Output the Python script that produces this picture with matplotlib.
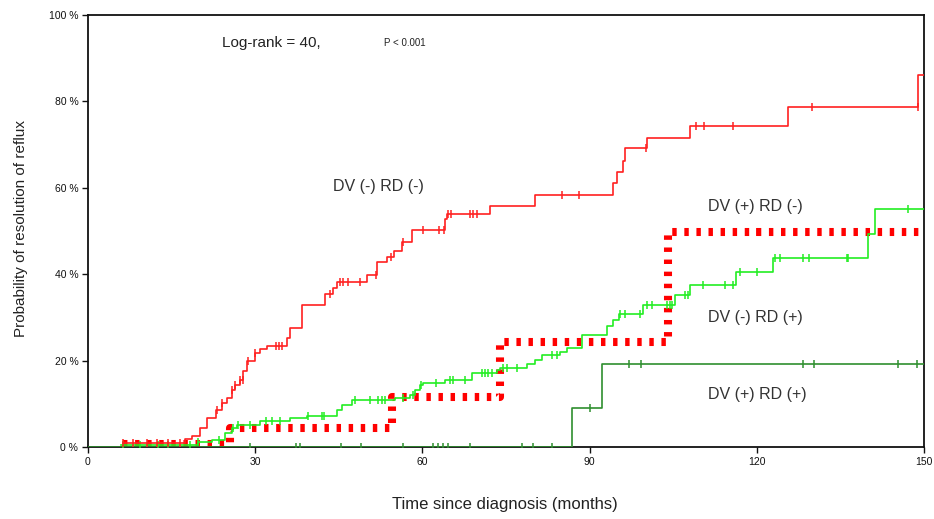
import numpy as np
import matplotlib
matplotlib.use('Agg')
from matplotlib import pyplot as plt

plt.rcParams['font.family'] = ['Liberation Sans', 'DejaVu Sans']

# Kaplan-Meier steps: (time in months, cumulative resolution in %)
dvneg_rdneg_t = [6.3, 17.4, 18.6, 20.1, 21.3, 23.0, 24.0, 25.0, 25.8, 26.4, 27.3, 27.9, 28.5, 30.0,
                 30.9, 32.1, 35.7, 36.2, 38.4, 42.5, 44.0, 44.6, 50.0, 51.8, 53.7, 54.9, 56.3, 58.1,
                 64.1, 64.4, 72.1, 80.2, 94.2, 94.9, 96.0, 96.4, 100.3, 108.0, 125.6, 149.0, 150.0]
dvneg_rdneg_p = [0.9, 1.8, 2.6, 4.3, 6.7, 8.6, 10.2, 11.3, 13.3, 14.4, 15.6, 17.7, 19.8, 21.8,
                 22.6, 23.3, 25.3, 27.6, 32.8, 35.5, 36.9, 38.2, 39.8, 42.9, 43.9, 45.4, 47.4, 50.2,
                 52.8, 54.0, 55.8, 58.4, 61.2, 63.7, 66.3, 69.1, 71.6, 74.4, 78.6, 86.0, 86.0]
dvneg_rdneg_cens = [6.3, 8.1, 10.6, 12.4, 14.4, 16.5, 23.1, 24.0, 25.8, 26.4, 27.3, 27.8, 28.7, 30.0,
                    33.7, 34.3, 34.9, 43.4, 45.2, 45.8, 46.6, 48.8, 51.7, 54.4, 56.6, 60.1, 62.9,
                    63.9, 64.6, 65.1, 68.5, 69.1, 69.8, 85.1, 88.1, 100.1, 109.1, 110.5, 115.7,
                    129.9, 148.9]

dvpos_rdneg_t = [6.3, 25.5, 54.5, 74.0, 104.0, 150.0]
dvpos_rdneg_p = [0.7, 4.4, 11.6, 24.2, 49.8, 49.8]
dvpos_rdneg_cens = [120.0]

dvneg_rdpos_t = [6.0, 19.7, 22.2, 24.6, 25.8, 26.7, 30.9, 36.2, 39.3, 44.7, 45.6, 47.4, 55.0, 57.8,
                 58.7, 59.5, 60.1, 64.1, 68.9, 73.4, 73.9, 78.8, 80.2, 81.5, 84.7, 85.9, 88.6,
                 93.1, 94.2, 95.3, 99.6, 105.3, 108.0, 116.3, 122.9, 140.0, 141.2, 150.0]
dvneg_rdpos_p = [0.5, 1.2, 1.6, 3.3, 4.4, 5.1, 6.0, 6.7, 7.2, 8.6, 9.8, 10.9, 11.4, 12.1,
                 13.3, 14.4, 14.9, 15.6, 17.2, 17.9, 18.4, 19.1, 20.2, 21.4, 22.1, 23.0, 26.0,
                 27.9, 29.5, 30.9, 32.8, 35.2, 37.4, 40.5, 43.7, 49.3, 55.1, 55.1]
dvneg_rdpos_cens = [6.3, 9.3, 12.6, 14.4, 18.3, 19.7, 23.5, 26.0, 27.0, 29.0, 32.0, 33.0, 34.5,
                    39.5, 42.0, 42.4, 47.9, 50.6, 52.0, 52.7, 53.3, 56.5, 58.3, 59.8, 62.4, 65.0,
                    65.5, 67.6, 70.7, 71.2, 71.8, 72.5, 74.5, 75.2, 77.0, 83.3, 84.2, 95.5, 96.4,
                    99.1, 100.3, 101.2, 103.9, 104.4, 104.8, 107.1, 107.7, 110.4, 114.3, 115.7,
                    117.0, 120.0, 123.3, 124.2, 128.3, 129.4, 136.2, 136.4, 147.1]

dvpos_rdpos_t = [0.0, 86.9, 92.2, 150.0]
dvpos_rdpos_p = [0.0, 9.1, 19.3, 19.3]
dvpos_rdpos_cens = [29.1, 37.3, 38.0, 45.4, 49.0, 56.6, 61.9, 62.8, 63.7, 64.6, 68.5, 77.8,
                    79.8, 83.3, 90.1, 97.1, 99.2, 128.3, 130.3, 145.3, 148.8]

curve_labels = ['DV (-) RD (-)', 'DV (+) RD (-)', 'DV (-) RD (+)', 'DV (+) RD (+)']
label_pos = [(44.0, 60.2), (111.2, 55.6), (111.2, 30.0), (111.2, 12.1)]


def step_value(t_steps, p_steps, t):
    idx = np.searchsorted(t_steps, t, side='right') - 1
    return np.asarray(p_steps)[np.clip(idx, 0, None)]


fig = plt.figure(figsize=(9.34, 5.19), dpi=100)
ax = fig.add_axes([0.0942, 0.1387, 0.8951, 0.8324])

# thick dotted curve first so the thin ones stay visible on top
ax.step(dvpos_rdneg_t, dvpos_rdneg_p, where='post', color='#ff0000', lw=5.8,
        linestyle=(0, (0.55, 0.95)), solid_capstyle='butt', dash_capstyle='butt', zorder=2)
ax.plot(dvpos_rdneg_cens, step_value(dvpos_rdneg_t, dvpos_rdneg_p, dvpos_rdneg_cens),
        ls='none', marker='|', ms=6, mew=1.3, color='#ff0000', zorder=2)

curves = [(dvpos_rdpos_t, dvpos_rdpos_p, dvpos_rdpos_cens, '#2f8f2f'),
          (dvneg_rdpos_t, dvneg_rdpos_p, dvneg_rdpos_cens, '#22ee22'),
          (dvneg_rdneg_t, dvneg_rdneg_p, dvneg_rdneg_cens, '#ff2020')]
for t_steps, p_steps, cens, col in curves:
    ax.step(t_steps, p_steps, where='post', color=col, lw=1.2, zorder=3)
    ax.plot(cens, step_value(t_steps, p_steps, cens), ls='none', marker='|',
            ms=6, mew=1.1, color=col, zorder=3)

for txt, (tx, py) in zip(curve_labels, label_pos):
    ax.text(tx, py, txt, fontsize=11.5, color='#333333', ha='left', va='center')

ax.text(24.0, 93.5, 'Log-rank = 40,', fontsize=11, color='#222222', ha='left', va='center')
ax.text(53.1, 93.5, 'P < 0.001', fontsize=7, color='#222222', ha='left', va='center')

ax.set_xlim(0, 150)
ax.set_ylim(0, 100)
ax.set_xticks(np.arange(0, 151, 30))
ax.set_yticks(np.arange(0, 101, 20))
ax.set_yticklabels([f'{v} %' for v in range(0, 101, 20)])
ax.tick_params(axis='both', direction='out', length=4, width=1, labelsize=7.5,
               colors='#111111', pad=3)
for side in ['left', 'bottom', 'top', 'right']:
    ax.spines[side].set_linewidth(1.3)
    ax.spines[side].set_color('#111111')

fig.text(0.541, 0.027, 'Time since diagnosis (months)', fontsize=12, color='#222222',
         ha='center', va='center')
fig.text(0.022, 0.56, 'Probability of resolution of reflux', fontsize=11, color='#222222',
         rotation=90, ha='center', va='center')

fig.savefig('out.png', dpi=100)
